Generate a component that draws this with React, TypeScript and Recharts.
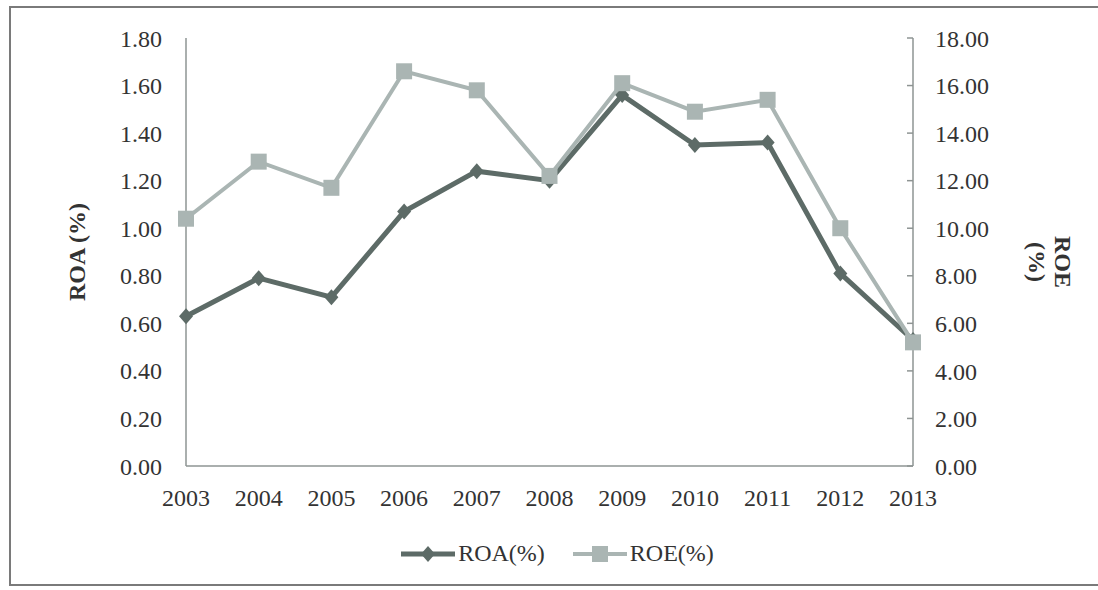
import React from 'react';
import { LineChart, Line, XAxis, YAxis, Legend } from 'recharts';

const years = ['2003', '2004', '2005', '2006', '2007', '2008', '2009', '2010', '2011', '2012', '2013'];
const roaValues = [0.63, 0.79, 0.71, 1.07, 1.24, 1.2, 1.56, 1.35, 1.36, 0.81, 0.53];
const roeValues = [10.4, 12.8, 11.7, 16.6, 15.8, 12.2, 16.1, 14.9, 15.4, 10.0, 5.2];
const roaTicks = [0, 0.2, 0.4, 0.6, 0.8, 1.0, 1.2, 1.4, 1.6, 1.8];
const roeTicks = [0, 2, 4, 6, 8, 10, 12, 14, 16, 18];

const data = years.map((y, i) => ({ year: y, roa: roaValues[i], roe: roeValues[i] }));

const ROA_COLOR = '#5d6b67';
const ROE_COLOR = '#aab5b3';
const AXIS_COLOR = '#8e9493';
const TEXT_COLOR = '#333333';
const FRAME_COLOR = '#7a7a7a';
const FONT = '"Liberation Serif", "Times New Roman", serif';

const Diamond = (props: any) => {
  const { cx, cy, index } = props;
  if (cx == null || cy == null) return <g key={index} />;
  return (
    <path
      key={index}
      d={`M${cx},${cy - 8}L${cx + 7},${cy}L${cx},${cy + 8}L${cx - 7},${cy}Z`}
      fill={ROA_COLOR}
    />
  );
};

const Square = (props: any) => {
  const { cx, cy, index } = props;
  if (cx == null || cy == null) return <g key={index} />;
  return <rect key={index} x={cx - 8} y={cy - 8} width={16} height={16} fill={ROE_COLOR} />;
};

const RightTick = (props: any) => {
  const { x, y, payload } = props;
  const ax = x - 22;
  return (
    <g>
      <line x1={ax - 6} x2={ax} y1={y} y2={y} stroke={AXIS_COLOR} strokeWidth={1.5} />
      <text x={x} y={y} dy="0.36em" textAnchor="start" fill={TEXT_COLOR} fontSize={24} fontFamily={FONT}>
        {Number(payload.value).toFixed(2)}
      </text>
    </g>
  );
};

const RoaLabel = (props: any) => {
  const { viewBox } = props;
  const cx = 66;
  const cy = viewBox.y + viewBox.height / 2;
  return (
    <text
      x={cx}
      y={cy}
      transform={`rotate(-90 ${cx} ${cy})`}
      textAnchor="middle"
      dominantBaseline="central"
      fontSize={24}
      fontWeight="bold"
      fontFamily={FONT}
      fill={TEXT_COLOR}
    >
      ROA (%)
    </text>
  );
};

const RoeLabel = (props: any) => {
  const { viewBox } = props;
  const cy = viewBox.y + viewBox.height / 2 + 10;
  const x1 = 1052;
  const x2 = 1026;
  return (
    <g>
      <text
        x={x1}
        y={cy}
        transform={`rotate(90 ${x1} ${cy})`}
        textAnchor="middle"
        dominantBaseline="central"
        fontSize={24}
        fontWeight="bold"
        fontFamily={FONT}
        fill={TEXT_COLOR}
      >
        ROE
      </text>
      <text
        x={x2}
        y={cy}
        transform={`rotate(90 ${x2} ${cy})`}
        textAnchor="middle"
        dominantBaseline="central"
        fontSize={24}
        fontWeight="bold"
        fontFamily={FONT}
        fill={TEXT_COLOR}
      >
        (%)
      </text>
    </g>
  );
};

const LegendContent = () => (
  <div
    style={{
      display: 'flex',
      justifyContent: 'center',
      alignItems: 'center',
      fontFamily: FONT,
      fontSize: 24,
      color: TEXT_COLOR,
      gap: 28,
      paddingLeft: 6,
    }}
  >
    <div style={{ display: 'flex', alignItems: 'center' }}>
      <svg width={54} height={20}>
        <line x1={0} x2={54} y1={10} y2={10} stroke={ROA_COLOR} strokeWidth={5} />
        <path d="M27,2L34,10L27,18L20,10Z" fill={ROA_COLOR} />
      </svg>
      <span style={{ marginLeft: 3 }}>ROA(%)</span>
    </div>
    <div style={{ display: 'flex', alignItems: 'center' }}>
      <svg width={54} height={20}>
        <line x1={0} x2={54} y1={10} y2={10} stroke={ROE_COLOR} strokeWidth={4} />
        <rect x={19} y={2} width={16} height={16} fill={ROE_COLOR} />
      </svg>
      <span style={{ marginLeft: 3 }}>ROE(%)</span>
    </div>
  </div>
);

export default function App() {
  return (
    <div style={{ position: 'fixed', left: 0, top: 0, width: 1098, height: 590, background: '#fff' }}>
      <div style={{ position: 'absolute', left: 9, top: 6, width: 1089, height: 2, background: FRAME_COLOR }} />
      <div style={{ position: 'absolute', left: 9, top: 6, width: 2, height: 580, background: FRAME_COLOR }} />
      <div style={{ position: 'absolute', left: 9, top: 584, width: 1089, height: 2, background: FRAME_COLOR }} />
      <div style={{ position: 'absolute', left: 11, top: 9 }}>
        <LineChart
          width={1087}
          height={576}
          data={data}
          margin={{ top: 29, right: 0, bottom: 79, left: 0 }}
        >
          <XAxis
            dataKey="year"
            axisLine={{ stroke: AXIS_COLOR, strokeWidth: 1.5 }}
            tickLine={false}
            tickSize={0}
            tickMargin={23}
            height={40}
            interval={0}
            tick={{ fill: TEXT_COLOR, fontSize: 24, fontFamily: FONT }}
          />
          <YAxis
            yAxisId="left"
            orientation="left"
            domain={[0, 1.8]}
            ticks={roaTicks}
            width={175}
            axisLine={{ stroke: AXIS_COLOR, strokeWidth: 1.5 }}
            tickLine={false}
            tickSize={0}
            tickMargin={24}
            tickFormatter={(v: number) => v.toFixed(2)}
            tick={{ fill: TEXT_COLOR, fontSize: 24, fontFamily: FONT }}
            label={<RoaLabel />}
          />
          <YAxis
            yAxisId="right"
            orientation="right"
            domain={[0, 18]}
            ticks={roeTicks}
            width={185}
            axisLine={{ stroke: AXIS_COLOR, strokeWidth: 1.5 }}
            tickLine={false}
            tickSize={0}
            tickMargin={22}
            tick={<RightTick />}
            label={<RoeLabel />}
          />
          <Line
            yAxisId="left"
            dataKey="roa"
            name="ROA(%)"
            stroke={ROA_COLOR}
            strokeWidth={5}
            dot={<Diamond />}
            activeDot={false}
            isAnimationActive={false}
          />
          <Line
            yAxisId="right"
            dataKey="roe"
            name="ROE(%)"
            stroke={ROE_COLOR}
            strokeWidth={4}
            dot={<Square />}
            activeDot={false}
            isAnimationActive={false}
          />
          <Legend
            verticalAlign="middle"
            layout="horizontal"
            content={<LegendContent />}
            wrapperStyle={{ top: 531, left: 0, width: 1087 }}
          />
        </LineChart>
      </div>
    </div>
  );
}
